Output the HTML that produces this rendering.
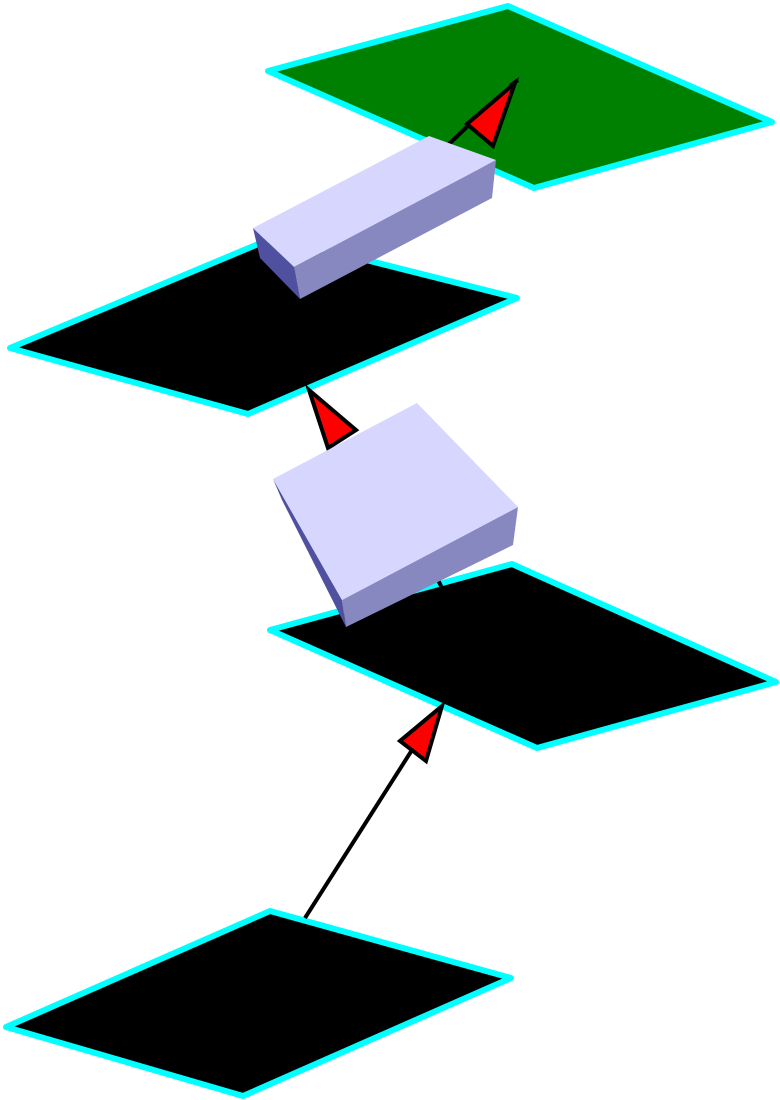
<!DOCTYPE html>
<html><head><meta charset="utf-8"><style>html,body{margin:0;padding:0;background:#fff}svg{display:block}</style></head>
<body>
<svg width="780" height="1100" viewBox="0 0 780 1100" xmlns="http://www.w3.org/2000/svg">
<g stroke="#00ffff" stroke-width="6" stroke-linejoin="round">
<polygon points="508,6 772,122 534,188 268,71" fill="#008000"/>
<polygon points="275,237 517,298 248,414 10,348" fill="#000"/>
<polygon points="512,564 776,682 537,748 270,630" fill="#000"/>
<polygon points="270,911 511,978 243,1096 6,1027" fill="#000"/>
</g>
<g stroke="#000" stroke-width="4" stroke-linejoin="miter">
<line x1="305" y1="918" x2="412" y2="750"/>
<polygon points="442,706 400,741 426,761" fill="#f00"/>
<line x1="438" y1="580" x2="442" y2="588"/>
<polygon points="309,390 356,430 328,448" fill="#f00"/>
<line x1="448" y1="145" x2="470" y2="124"/>
<polygon points="515,83 467,124 493,146" fill="#f00"/>
<line x1="510" y1="86" x2="518" y2="80"/>
</g>
<polygon points="253,228 294,267 300,299 260,258" fill="#5050a0"/>
<polygon points="294,267 496,160 492,198 300,299" fill="#8888c0"/>
<polygon points="253,228 429,136 496,160 294,267" fill="#d6d6fe"/>
<polygon points="273,479 342,600 346,627 282,500" fill="#5050a0"/>
<polygon points="342,600 518,507 513,545 346,627" fill="#8888c0"/>
<polygon points="273,479 417,403 518,507 342,600" fill="#d6d6fe"/>
</svg>
</body></html>
